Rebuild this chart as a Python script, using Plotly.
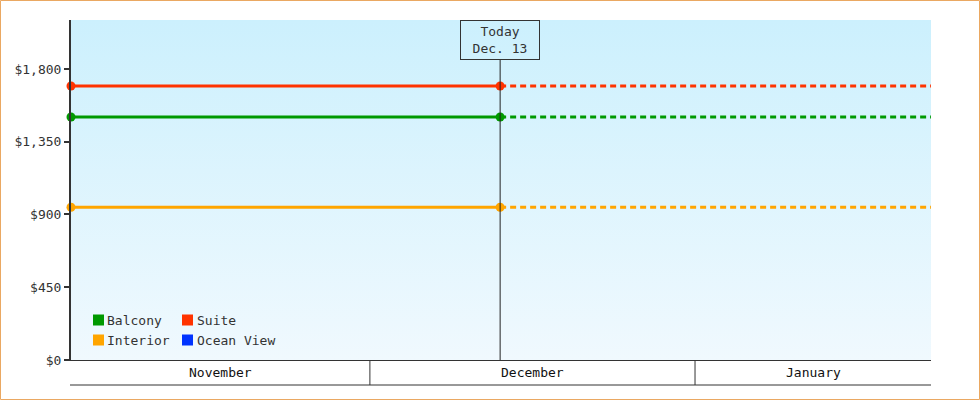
import pandas as pd
import plotly.graph_objects as go

# ---------------- data ----------------
categories = ["Balcony", "Suite", "Interior", "Ocean View"]
category_colors = ["#009900", "#ff3300", "#ffa500", "#0033ff"]
prices = [1503, 1695, 945, None]          # Ocean View has no data
x_start = "2023-11-02 12:00"
today = "2023-12-13 10:00"
x_end = "2024-01-23 12:00"
today_label = "Today<br>Dec. 13"
month_labels = ["November", "December", "January"]
month_starts = ["2023-11-01", "2023-12-01", "2024-01-01", "2024-02-01"]
y_ticks = [0, 450, 900, 1350, 1800]
y_max = 2103

# ---------------- layout geometry ----------------
W, H = 980, 400
ML, MR, MT, MB = 71, 49, 20, 40
PW, PH = W - ML - MR, H - MT - MB
FONT = "DejaVu Sans Mono"
DARK = "#333333"


def px_x(p):
    return (p - ML) / PW


def px_y(p):
    return (H - MB - p) / PH


fig = go.Figure()

for name, color, price in zip(categories, category_colors, prices):
    if price is None:
        continue
    fig.add_trace(go.Scatter(
        x=[x_start, today], y=[price, price], mode="lines+markers",
        line=dict(color=color, width=3), marker=dict(size=9, color=color),
        showlegend=False, cliponaxis=False, hoverinfo="skip"))
    fig.add_trace(go.Scatter(
        x=[today, x_end], y=[price, price], mode="lines",
        line=dict(color=color, width=3, dash="6px,4px"),
        showlegend=False, cliponaxis=False, hoverinfo="skip"))

shapes = []
annotations = []

# outer orange border
shapes.append(dict(type="rect", xref="paper", yref="paper",
                   x0=px_x(0.5), x1=px_x(W - 0.5), y0=px_y(H - 0.5), y1=px_y(0.5),
                   line=dict(color="#eaa862", width=1), fillcolor="rgba(0,0,0,0)",
                   layer="below"))

# month band
band_y = px_y(385)
shapes.append(dict(type="line", xref="paper", yref="paper",
                   x0=px_x(70), x1=1, y0=band_y, y1=band_y,
                   line=dict(color=DARK, width=1)))
xs0, xs1 = pd.Timestamp(x_start), pd.Timestamp(x_end)
for i, lab in enumerate(month_labels):
    a = max(pd.Timestamp(month_starts[i]), xs0)
    b = min(pd.Timestamp(month_starts[i + 1]), xs1)
    if i > 0:
        shapes.append(dict(type="line", xref="x", yref="paper",
                           x0=a, x1=a, y0=0, y1=band_y,
                           line=dict(color=DARK, width=1)))
    mid = a + (b - a) / 2
    annotations.append(dict(x=mid, y=band_y / 2, xref="x", yref="paper",
                            text=lab, showarrow=False, yanchor="middle",
                            font=dict(family=FONT, size=13, color="#111")))

# today line and box
shapes.append(dict(type="line", xref="x", yref="paper", x0=today, x1=today,
                   y0=0, y1=px_y(60), line=dict(color="#222222", width=1)))
annotations.append(dict(x=today, y=1, xref="x", yref="paper", yanchor="top",
                        text=today_label, showarrow=False, align="center",
                        bordercolor=DARK, borderwidth=1, borderpad=3,
                        width=72, height=32, bgcolor="rgba(0,0,0,0)",
                        font=dict(family=FONT, size=13, color=DARK)))

# manual legend (2 columns)
col_sq = [93, 182]
col_txt = [106, 196]
row_cy = [320, 340]
for i, (name, color) in enumerate(zip(categories, category_colors)):
    r, c = divmod(i, 2)
    cy = row_cy[r]
    sx = col_sq[c]
    shapes.append(dict(type="rect", xref="paper", yref="paper",
                       x0=px_x(sx), x1=px_x(sx + 11), y0=px_y(cy + 5.5), y1=px_y(cy - 5.5),
                       fillcolor=color, line=dict(width=0)))
    annotations.append(dict(x=px_x(col_txt[c]), y=px_y(cy), xref="paper", yref="paper",
                            xanchor="left", yanchor="middle", text=name, showarrow=False,
                            xshift=-1, font=dict(family=FONT, size=13, color=DARK)))

grad_svg = ("data:image/svg+xml;utf8,"
            "<svg xmlns='http://www.w3.org/2000/svg' width='100' height='100' preserveAspectRatio='none'>"
            "<defs><linearGradient id='g' x1='0' y1='0' x2='0' y2='1'>"
            "<stop offset='0' stop-color='%23ccf0fd'/><stop offset='1' stop-color='%23f0f9fe'/>"
            "</linearGradient></defs><rect width='100' height='100' fill='url(%23g)'/></svg>")

fig.update_layout(
    width=W, height=H, margin=dict(l=ML, r=MR, t=MT, b=MB),
    paper_bgcolor="white", plot_bgcolor="rgba(0,0,0,0)",
    showlegend=False,
    shapes=shapes, annotations=annotations,
    images=[dict(source=grad_svg, xref="paper", yref="paper", x=0, y=1,
                 sizex=1, sizey=1, sizing="stretch", layer="below",
                 xanchor="left", yanchor="top")],
    xaxis=dict(range=[x_start, x_end], type="date", showgrid=False,
               showticklabels=False, ticks="", zeroline=False,
               showline=True, linecolor=DARK, linewidth=1),
    yaxis=dict(range=[0, y_max], tickvals=y_ticks,
               ticktext=["$" + f"{v:,}" for v in y_ticks],
               showgrid=False, zeroline=False, showline=True,
               linecolor=DARK, linewidth=2, ticks="outside", ticklen=5,
               tickwidth=2, tickcolor=DARK,
               tickfont=dict(family=FONT, size=13, color=DARK)),
)

fig.write_html("out.html", config={"displayModeBar": False},
               post_script="document.body.style.margin='0';document.body.style.overflow='hidden';")
